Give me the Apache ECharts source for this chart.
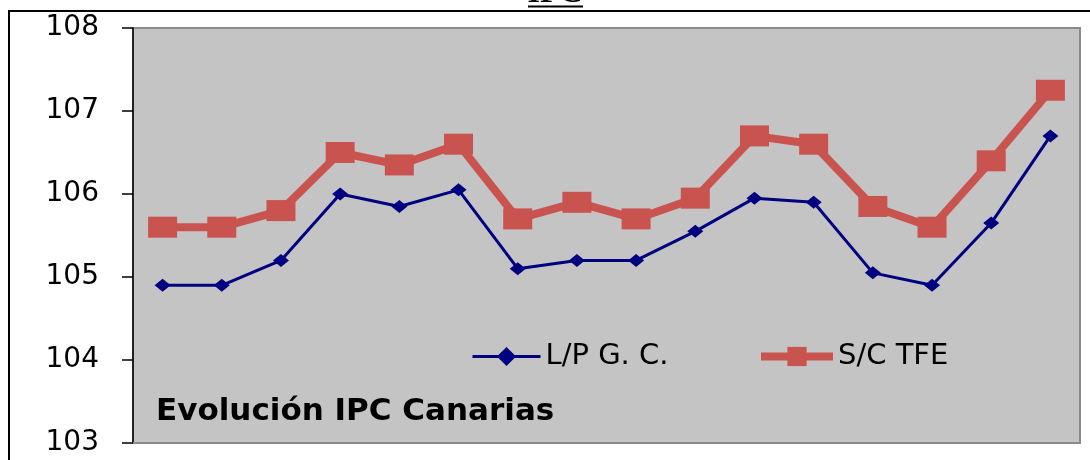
<!DOCTYPE html>
<html>
<head>
<meta charset="utf-8">
<script src="https://cdn.jsdelivr.net/npm/echarts@6/dist/echarts.min.js"></script>
<style>
  html, body { margin: 0; padding: 0; background: #fff; }
  #main { width: 1090px; height: 460px; }
</style>
</head>
<body>
<div id="main"></div>
<script>
// datos (16 periodos, sin etiquetas en el eje X)
var periodos = ['1','2','3','4','5','6','7','8','9','10','11','12','13','14','15','16'];
var lpgc = [104.9, 104.9, 105.2, 106.0, 105.85, 106.05, 105.1, 105.2, 105.2, 105.55, 105.95, 105.9, 105.05, 104.9, 105.65, 106.7];
var sctfe = [105.6, 105.6, 105.8, 106.5, 106.35, 106.6, 105.7, 105.9, 105.7, 105.95, 106.7, 106.6, 105.85, 105.6, 106.4, 107.25];
var nombres = ['L/P G. C.', 'S/C TFE'];

var azul = '#000080';
var rojo = '#c9534f';

var myChart = echarts.init(document.getElementById('main'));

var estiloLeyenda = {
    fontFamily: 'DejaVu Sans',
    fontSize: 29,
    color: '#000'
};

var option = {
    backgroundColor: '#fff',
    animation: false,
    title: {
        text: 'Evolución IPC Canarias',
        left: 151,
        top: 391,
        textStyle: {
            fontFamily: 'DejaVu Sans',
            fontWeight: 'bold',
            fontSize: 31,
            color: '#000'
        }
    },
    legend: [
        {
            left: 466,
            top: 337,
            itemWidth: 68,
            itemHeight: 24,
            textStyle: estiloLeyenda,
            data: [{ name: nombres[0], lineStyle: { width: 3 } }]
        },
        {
            left: 752,
            top: 337,
            itemWidth: 72,
            itemHeight: 24,
            textStyle: estiloLeyenda,
            data: [{ name: nombres[1], lineStyle: { width: 8 } }]
        }
    ],
    grid: {
        left: 133,
        right: 10,
        top: 28,
        bottom: 17,
        show: true,
        backgroundColor: '#c4c4c4',
        borderColor: '#8a8a8a',
        borderWidth: 2
    },
    xAxis: {
        type: 'category',
        data: periodos,
        boundaryGap: true,
        axisLine: { lineStyle: { color: '#8a8a8a', width: 2 } },
        axisTick: { show: false },
        axisLabel: { show: false }
    },
    yAxis: {
        type: 'value',
        min: 103,
        max: 108,
        interval: 1,
        splitLine: { show: false },
        axisLine: { show: true, lineStyle: { color: '#000', width: 1.5 } },
        axisTick: { show: true, inside: false, length: 11, lineStyle: { color: '#000', width: 1.5 } },
        axisLabel: {
            margin: 34,
            fontFamily: 'DejaVu Sans',
            fontSize: 28,
            color: '#000'
        }
    },
    series: [
        {
            name: nombres[0],
            type: 'line',
            data: lpgc,
            symbol: 'diamond',
            symbolSize: [16, 13],
            itemStyle: { color: azul },
            lineStyle: { color: azul, width: 3 },
            z: 3
        },
        {
            name: nombres[1],
            type: 'line',
            data: sctfe,
            symbol: 'rect',
            symbolSize: [29, 21],
            itemStyle: { color: rojo },
            lineStyle: { color: rojo, width: 8 },
            z: 2
        }
    ],
    graphic: [
        {
            type: 'rect',
            shape: { x: 9, y: 11, width: 1200, height: 600 },
            style: { fill: null, stroke: '#000', lineWidth: 2 },
            silent: true,
            z: -10
        },
        {
            type: 'text',
            x: 555,
            y: 10,
            style: {
                text: 'IPC',
                font: 'bold 32px "Liberation Serif"',
                fill: '#000',
                textAlign: 'center',
                textVerticalAlign: 'bottom'
            }
        },
        {
            type: 'line',
            shape: { x1: 528, y1: 6.5, x2: 583, y2: 6.5 },
            style: { stroke: '#000', lineWidth: 2 }
        }
    ]
};

myChart.setOption(option);
</script>
</body>
</html>
